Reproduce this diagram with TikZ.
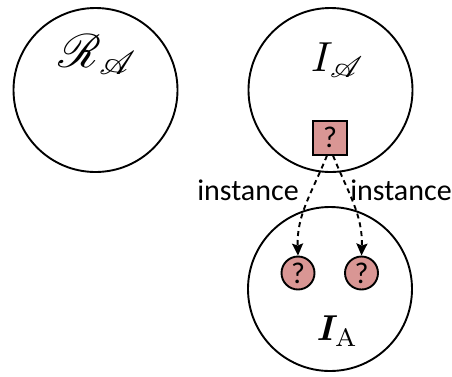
\documentclass[tikz,border=0pt]{standalone}
\usepackage{amsmath}
\usepackage{bm}
\usepackage{mathrsfs}
\usepackage{graphicx}
\usepackage{fontspec}
\newfontfamily\carlito{Carlito}
\usetikzlibrary{arrows.meta}
\definecolor{qfill}{RGB}{217,150,148}
\begin{document}
\begin{tikzpicture}[x=1pt,y=-1pt,
  bigcirc/.style={circle,draw,line width=1.9pt,minimum size=164pt,inner sep=0pt},
  qbox/.style={draw,line width=2pt,fill=qfill,minimum size=34pt,inner sep=0pt,font=\carlito\fontsize{30}{30}\selectfont},
  qcirc/.style={circle,draw,line width=1.9pt,fill=qfill,minimum size=33pt,inner sep=0pt,font=\carlito\fontsize{30}{30}\selectfont},
  inst/.style={line width=1.9pt,dash pattern=on 5pt off 4pt,-{Stealth[length=12pt,width=11pt,inset=2pt]}},
  lbl/.style={font=\carlito\fontsize{30}{30}\selectfont,inner sep=0pt},
  mlbl/.style={inner sep=0pt}]
\useasboundingbox (0,0) rectangle (452,376);
\node[bigcirc] (ra) at (95.5,90) {};
\node[bigcirc] (ia) at (330.5,90) {};
\node[bigcirc] (ib) at (330,289) {};
\node[mlbl] (raL) at (98.5,55) {\scalebox{4.7}{$\mathscr{R}_{\mathscr{A}}$}};
\node[mlbl] (iaL) at (338,60) {\scalebox{4.2}{$I_{\mathscr{A}}$}};
\node[mlbl] (ibL) at (337.5,331) {\scalebox{3.6}{$\bm{I}_{\mathrm{A}}$}};
\node[qbox] (sq) at (330,137.5) {?};
\node[qcirc] (c1) at (298,273) {?};
\node[qcirc] (c2) at (361.5,273) {?};
\node[lbl] (l1) at (248,190) {instance};
\node[lbl] (l2) at (401,190) {instance};
\draw[inst] ([xshift=-3pt]sq.south) to[out=-112,in=92] (c1.north);
\draw[inst] ([xshift=3pt]sq.south) to[out=-68,in=88] (c2.north);
\end{tikzpicture}
\end{document}
